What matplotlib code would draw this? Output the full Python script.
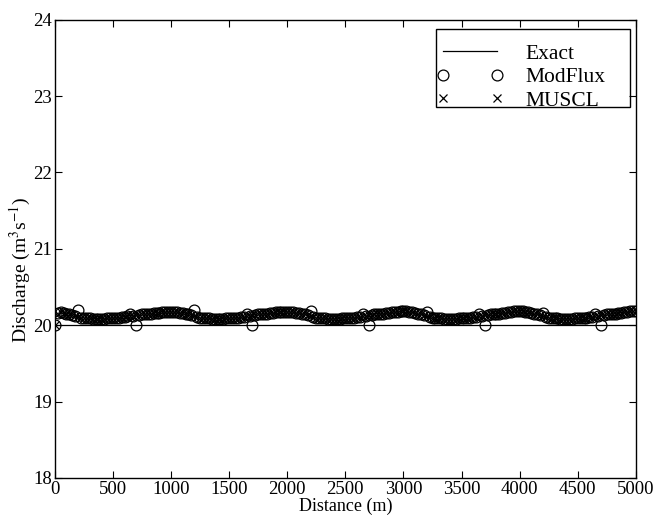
import matplotlib
matplotlib.use("Agg")
import matplotlib.pyplot as plt
from matplotlib.patches import Rectangle

# Distance along the channel (m), sampled every 25 m
distance = list(range(0, 5001, 25))

# MUSCL discharge (m^3/s), 8 samples per row (200 m per row)
q_muscl = [
    20.00, 20.15, 20.17, 20.16, 20.15, 20.14, 20.13, 20.12,
    20.11, 20.10, 20.10, 20.09, 20.09, 20.08, 20.08, 20.08,
    20.08, 20.08, 20.09, 20.09, 20.09, 20.10, 20.10, 20.11,
    20.11, 20.12, 20.12, 20.12, 20.13, 20.13, 20.14, 20.14,
    20.15, 20.15, 20.16, 20.16, 20.16, 20.17, 20.17, 20.17,
    20.17, 20.17, 20.17, 20.16, 20.16, 20.15, 20.14, 20.13,
    20.12, 20.11, 20.10, 20.10, 20.09, 20.09, 20.08, 20.08,
    20.08, 20.08, 20.08, 20.09, 20.09, 20.09, 20.10, 20.10,
    20.11, 20.11, 20.12, 20.12, 20.13, 20.13, 20.14, 20.14,
    20.15, 20.15, 20.16, 20.16, 20.17, 20.17, 20.17, 20.17,
    20.17, 20.17, 20.17, 20.16, 20.16, 20.15, 20.14, 20.13,
    20.12, 20.11, 20.10, 20.10, 20.09, 20.09, 20.08, 20.08,
    20.08, 20.08, 20.08, 20.09, 20.09, 20.09, 20.10, 20.10,
    20.11, 20.11, 20.12, 20.12, 20.13, 20.13, 20.14, 20.14,
    20.15, 20.15, 20.16, 20.16, 20.17, 20.17, 20.17, 20.18,
    20.18, 20.18, 20.17, 20.17, 20.16, 20.15, 20.14, 20.13,
    20.12, 20.11, 20.10, 20.10, 20.09, 20.09, 20.08, 20.08,
    20.08, 20.08, 20.08, 20.09, 20.09, 20.09, 20.10, 20.10,
    20.11, 20.11, 20.12, 20.12, 20.13, 20.13, 20.14, 20.14,
    20.15, 20.15, 20.16, 20.16, 20.17, 20.17, 20.18, 20.18,
    20.18, 20.18, 20.17, 20.17, 20.16, 20.15, 20.14, 20.13,
    20.12, 20.11, 20.10, 20.10, 20.09, 20.09, 20.08, 20.08,
    20.08, 20.08, 20.08, 20.09, 20.09, 20.09, 20.10, 20.10,
    20.11, 20.11, 20.12, 20.12, 20.13, 20.13, 20.14, 20.14,
    20.15, 20.15, 20.16, 20.16, 20.17, 20.17, 20.18, 20.18,
    20.19,
]

# ModFlux discharge (m^3/s): same sampling, with its local overshoots
q_modflux = [
    20.00, 20.16, 20.17, 20.16, 20.15, 20.14, 20.13, 20.12,
    20.20, 20.10, 20.10, 20.09, 20.09, 20.08, 20.08, 20.08,
    20.08, 20.08, 20.09, 20.09, 20.09, 20.10, 20.10, 20.11,
    20.11, 20.12, 20.14, 20.12, 20.00, 20.13, 20.14, 20.14,
    20.15, 20.15, 20.16, 20.16, 20.16, 20.17, 20.17, 20.17,
    20.17, 20.17, 20.17, 20.16, 20.16, 20.15, 20.14, 20.13,
    20.20, 20.11, 20.10, 20.10, 20.09, 20.09, 20.08, 20.08,
    20.08, 20.08, 20.08, 20.09, 20.09, 20.09, 20.10, 20.10,
    20.11, 20.11, 20.14, 20.12, 20.00, 20.13, 20.14, 20.14,
    20.15, 20.15, 20.16, 20.16, 20.17, 20.17, 20.17, 20.17,
    20.17, 20.17, 20.17, 20.16, 20.16, 20.15, 20.14, 20.13,
    20.18, 20.11, 20.10, 20.10, 20.09, 20.09, 20.08, 20.08,
    20.08, 20.08, 20.08, 20.09, 20.09, 20.09, 20.10, 20.10,
    20.11, 20.11, 20.15, 20.12, 20.00, 20.13, 20.14, 20.14,
    20.15, 20.15, 20.16, 20.16, 20.17, 20.17, 20.17, 20.18,
    20.18, 20.18, 20.17, 20.17, 20.16, 20.15, 20.14, 20.13,
    20.17, 20.11, 20.10, 20.10, 20.09, 20.09, 20.08, 20.08,
    20.08, 20.08, 20.08, 20.09, 20.09, 20.09, 20.10, 20.10,
    20.11, 20.11, 20.15, 20.12, 20.00, 20.13, 20.14, 20.14,
    20.15, 20.15, 20.16, 20.16, 20.17, 20.17, 20.18, 20.18,
    20.18, 20.18, 20.17, 20.17, 20.16, 20.15, 20.14, 20.13,
    20.16, 20.11, 20.10, 20.10, 20.09, 20.09, 20.08, 20.08,
    20.08, 20.08, 20.08, 20.09, 20.09, 20.09, 20.10, 20.10,
    20.11, 20.11, 20.15, 20.12, 20.00, 20.13, 20.14, 20.14,
    20.15, 20.15, 20.16, 20.16, 20.17, 20.17, 20.18, 20.18,
    20.19,
]

# Exact steady discharge
exact_x = [0, 5000]
exact_q = [20.0, 20.0]

x_ticks = [0, 500, 1000, 1500, 2000, 2500, 3000, 3500, 4000, 4500, 5000]
y_ticks = [18, 19, 20, 21, 22, 23, 24]

plt.rcParams["font.family"] = ["Liberation Serif", "DejaVu Serif"]
plt.rcParams["mathtext.fontset"] = "stix"

fig = plt.figure(figsize=(6.61, 5.20), dpi=100)
ax = fig.add_axes([0.083, 0.081, 0.879, 0.881])

ax.plot(exact_x, exact_q, color="black", lw=0.9, label="Exact")
ax.plot(distance, q_modflux, linestyle="none", marker="o", markersize=7.8,
        markerfacecolor="none", markeredgecolor="black", markeredgewidth=0.9,
        label="ModFlux")
ax.plot(distance, q_muscl, linestyle="none", marker="x", markersize=5.5,
        markeredgecolor="black", markeredgewidth=0.9, label="MUSCL")

ax.set_xlim(0, 5000)
ax.set_ylim(18, 24)
ax.set_xticks(x_ticks)
ax.set_yticks(y_ticks)
ax.tick_params(direction="in", top=True, right=True, length=5, width=0.8,
               labelsize=13.5, pad=2)
for s in ax.spines.values():
    s.set_linewidth(1.0)

ax.set_xlabel("Distance (m)", fontsize=13, labelpad=0)
ax.set_ylabel("Discharge (m$^{3}$s$^{-1}$)", fontsize=14)
ax.yaxis.set_label_coords(-0.037, 0.454)

# Legend entries without their own frame, boxed by a separate rectangle
leg = ax.legend(loc="upper left", bbox_to_anchor=(0.6566, 0.948),
                numpoints=2, fontsize=15.5, frameon=False,
                handlelength=3.11, handletextpad=1.05, borderpad=0,
                borderaxespad=0, labelspacing=0.16)
ax.add_patch(Rectangle((0.656, 0.810), 0.334, 0.170, transform=ax.transAxes,
                       fill=False, edgecolor="black", lw=1.0, zorder=5))

fig.savefig("out.png", dpi=100)
